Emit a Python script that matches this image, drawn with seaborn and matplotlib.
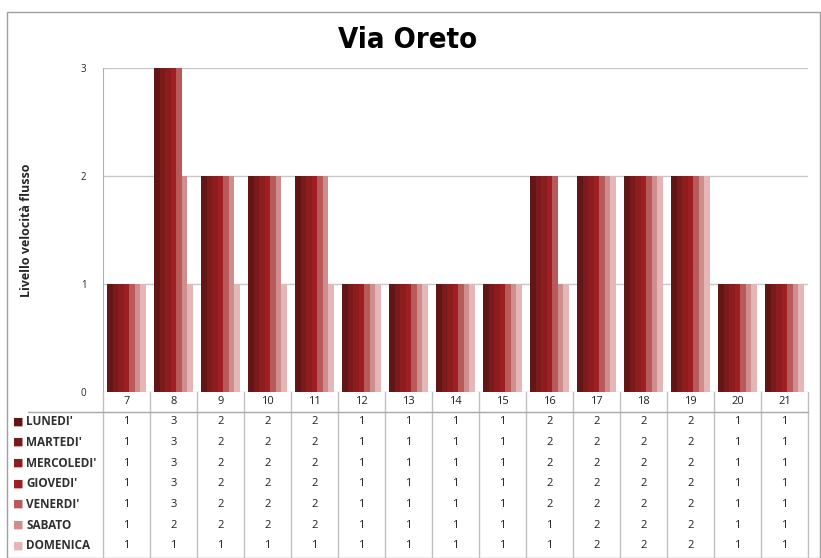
import pandas as pd
import matplotlib.pyplot as plt
import matplotlib.transforms as mtransforms
from matplotlib.patches import Rectangle
import seaborn as sns

# Dati: livello di velocità del flusso per ora e giorno
ore = [7, 8, 9, 10, 11, 12, 13, 14, 15, 16, 17, 18, 19, 20, 21]
giorni = ["LUNEDI'", "MARTEDI'", "MERCOLEDI'", "GIOVEDI'", "VENERDI'", "SABATO", "DOMENICA"]
lunedi = [1, 3, 2, 2, 2, 1, 1, 1, 1, 2, 2, 2, 2, 1, 1]
martedi = [1, 3, 2, 2, 2, 1, 1, 1, 1, 2, 2, 2, 2, 1, 1]
mercoledi = [1, 3, 2, 2, 2, 1, 1, 1, 1, 2, 2, 2, 2, 1, 1]
giovedi = [1, 3, 2, 2, 2, 1, 1, 1, 1, 2, 2, 2, 2, 1, 1]
venerdi = [1, 3, 2, 2, 2, 1, 1, 1, 1, 2, 2, 2, 2, 1, 1]
sabato = [1, 2, 2, 2, 2, 1, 1, 1, 1, 1, 2, 2, 2, 1, 1]
domenica = [1, 1, 1, 1, 1, 1, 1, 1, 1, 1, 2, 2, 2, 1, 1]
y_ticks = [0, 1, 2, 3]

colori = ["#631616", "#7A1A1A", "#8C1C1D", "#9E1F23", "#B85A5A", "#CF8E8E", "#E4B6B6"]

valori = [lunedi, martedi, mercoledi, giovedi, venerdi, sabato, domenica]
righe = []
for g, vals in zip(giorni, valori):
    for o, v in zip(ore, vals):
        righe.append({"ora": str(o), "giorno": g, "livello": v})
df = pd.DataFrame(righe)

W, H = 821, 558
fig = plt.figure(figsize=(W / 100, H / 100), dpi=100)
sns.set_style("white")
plt.rcParams['font.family'] = ['Open Sans', 'DejaVu Sans']

# cornice del grafico
fig.patches.append(Rectangle((7 / W, 0), (W - 8) / W, 1 - 12 / H, transform=fig.transFigure,
                             fill=False, edgecolor="#A0A0A0", linewidth=1.0))

x0, x1 = 103, 808
y_top, y_bot = 68, 392
ax = fig.add_axes([x0 / W, 1 - y_bot / H, (x1 - x0) / W, (y_bot - y_top) / H])
sns.barplot(data=df, x="ora", y="livello", hue="giorno", palette=colori,
            order=[str(o) for o in ore], hue_order=giorni,
            width=0.83, gap=0, saturation=1, legend=False, linewidth=0, ax=ax)
ax.set_xlim(-0.5, len(ore) - 0.5)
ax.set_ylim(0, 3)
ax.set_yticks(y_ticks)
ax.set_yticklabels([str(t) for t in y_ticks], fontsize=7)
ax.set_xticks([])
ax.set_xlabel("")
ax.set_ylabel("Livello velocità flusso", fontsize=9, fontweight="bold")
ax.yaxis.set_label_coords((33 - x0) / (x1 - x0), 0.5)
ax.yaxis.grid(True, color="#C8C8C8", linewidth=1)
ax.set_axisbelow(True)
for s in ["top", "right", "bottom"]:
    ax.spines[s].set_visible(False)
ax.spines["left"].set_color("#B0B0B0")
ax.tick_params(axis="y", length=4, color="#B0B0B0", pad=8)

fig.text(408 / W, 1 - 40 / H, "Via Oreto", ha="center", va="center", color="black",
         fontsize=21, fontweight="bold", fontstretch="condensed", family=["DejaVu Sans"])

# tabella dati sotto il grafico
t_bot = 557
tax = fig.add_axes([x0 / W, 1 - t_bot / H, (x1 - x0) / W, (t_bot - y_bot) / H])
tax.set_xlim(-0.5, len(ore) - 0.5)
tax.set_ylim(8, 0)
tax.axis("off")
for i, o in enumerate(ore):
    tax.text(i, 0.45, str(o), ha="center", va="center", fontsize=8, color="#202020")
    for r, vals in enumerate(valori):
        tax.text(i, 1.45 + r * 1.0, str(vals[i]), ha="center", va="center", fontsize=8, color="#202020")
for i in range(len(ore) + 1):
    tax.plot([i - 0.5, i - 0.5], [0, 8], color="#C0C0C0", linewidth=1, clip_on=False)
trans = mtransforms.blended_transform_factory(tax.transAxes, tax.transData)
tax.plot([(28 - x0) / (x1 - x0), 1], [0.95, 0.95], color="#A8A8A8", linewidth=1,
         transform=trans, clip_on=False)
for r, (g, c) in enumerate(zip(giorni, colori)):
    tax.text((13 - x0) / (x1 - x0), 1.45 + r, "■", color=c, fontsize=8, ha="left", va="center",
             transform=trans, clip_on=False)
    tax.text((26 - x0) / (x1 - x0), 1.45 + r, g, color="#303030", fontsize=8.5, fontweight="bold",
             ha="left", va="center", transform=trans, clip_on=False)

fig.savefig("out.png", dpi=100)
